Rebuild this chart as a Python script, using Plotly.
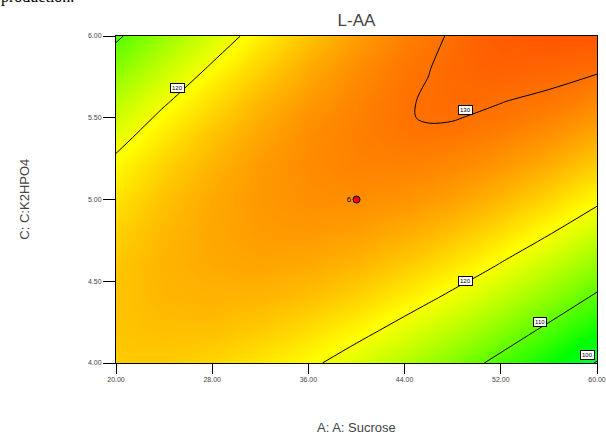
import plotly.graph_objects as go

# Factor levels (A: Sucrose, C: K2HPO4) and L-AA response on the grid
sucrose = [20, 24, 28, 32, 36, 40, 44, 46, 48, 50, 52, 56, 60]
k2hpo4 = [4.0, 4.2, 4.4, 4.6, 4.8, 5.0, 5.2, 5.4, 5.5, 5.6, 5.8, 6.0]
laa = [
    [124.0, 123.9, 123.3, 122.1, 120.7, 118.3, 115.6, 114.1, 112.4, 110.6, 108.7, 104.5, 99.7],
    [124.4, 124.8, 124.7, 124.0, 122.8, 121.1, 118.8, 117.5, 116.1, 114.5, 112.8, 109.0, 104.7],
    [124.5, 125.3, 125.6, 125.4, 124.7, 123.4, 121.6, 120.5, 119.3, 118.0, 116.5, 113.2, 109.3],
    [124.2, 125.5, 126.2, 126.5, 126.2, 125.4, 124.0, 123.2, 122.2, 121.1, 119.8, 116.9, 113.5],
    [123.5, 125.2, 126.4, 127.1, 127.3, 126.9, 126.0, 125.4, 124.6, 123.7, 122.7, 120.3, 117.3],
    [122.4, 124.6, 126.2, 127.3, 127.9, 128.0, 127.6, 127.2, 126.7, 126.0, 125.2, 123.2, 120.7],
    [120.9, 123.5, 125.6, 127.2, 128.2, 128.8, 128.8, 128.6, 128.3, 127.9, 127.3, 125.8, 123.7],
    [118.7, 121.8, 124.4, 126.5, 128.0, 129.0, 129.61, 129.71, 129.62, 129.36, 128.97, 127.9, 126.3],
    [117.4, 120.8, 123.6, 125.9, 127.7, 128.9, 129.87, 130.14, 130.1, 129.85, 129.65, 128.8, 127.45],
    [116.0, 119.6, 122.7, 125.2, 127.2, 128.7, 129.83, 130.18, 130.34, 130.32, 130.05, 129.6, 128.5],
    [112.8, 116.9, 120.5, 123.5, 126.1, 128.1, 129.56, 129.95, 130.52, 130.8, 130.97, 130.7, 130.3],
    [109.3, 113.9, 117.9, 121.5, 124.5, 127.0, 128.98, 129.6, 130.2, 130.98, 131.38, 131.8, 131.7],
]

# Contour levels and where their value boxes sit
levels = [100, 110, 120, 130]
label_values = [120, 130, 120, 110, 100]
label_x = [25.15, 49.1, 49.1, 55.25, 59.2]
label_y = [5.682, 5.547, 4.50, 4.25, 4.05]

# Design (centre) point and its replicate count
center_x = [40]
center_y = [5.0]
center_count = ["6"]

x_ticks = [20, 28, 36, 44, 52, 60]
x_ticktext = ["20.00", "28.00", "36.00", "44.00", "52.00", "60.00"]
y_ticks = [4.0, 4.5, 5.0, 5.5, 6.0]
y_ticktext = ["4.00", "4.50", "5.00", "5.50", "6.00"]

zmin, zmax = 99.7, 131.8
colorscale = [
    [0.0, "#00ff40"],
    [0.134, "#00ff00"],
    [0.648, "#ffff00"],
    [1.0, "#ff5500"],
]

fig = go.Figure()
fig.add_trace(go.Contour(
    x=sucrose, y=k2hpo4, z=laa,
    zmin=zmin, zmax=zmax, colorscale=colorscale, showscale=False,
    contours=dict(start=levels[0], end=levels[-1], size=levels[1] - levels[0],
                  coloring="heatmap", showlines=True),
    line=dict(color="black", width=1, smoothing=1),
    hoverinfo="skip",
))
fig.add_trace(go.Scatter(
    x=center_x, y=center_y, mode="markers+text",
    text=center_count, textposition="middle left",
    textfont=dict(size=8, color="black", family="Liberation Sans"),
    marker=dict(symbol="circle", size=7, color="#ff0000",
                line=dict(color="black", width=1)),
    showlegend=False, hoverinfo="skip", cliponaxis=False,
))

annotations = []
for v, lx, ly in zip(label_values, label_x, label_y):
    annotations.append(dict(
        x=lx, y=ly, xref="x", yref="y", text=str(v), showarrow=False,
        font=dict(size=6, color="black", family="Liberation Sans"),
        bgcolor="white", bordercolor="black", borderwidth=1, borderpad=1,
    ))

annotations += [
    dict(text="A: A: Sucrose", xref="paper", yref="paper", x=0.5, y=-0.196,
         xanchor="center", yanchor="middle", showarrow=False,
         font=dict(size=13, color="#444444", family="Liberation Sans")),
    dict(text="C: C:K2HPO4", xref="paper", yref="paper", x=-0.191, y=0.5,
         xanchor="center", yanchor="middle", textangle=-90, showarrow=False,
         font=dict(size=13, color="#444444", family="Liberation Sans")),
    dict(text="production.", xref="paper", yref="paper", x=-0.241, y=1.0902,
         xanchor="left", yanchor="bottom", showarrow=False, borderpad=0,
         font=dict(size=16, color="black", family="Liberation Serif")),
]

axis_font = dict(size=7, color="#444444", family="Liberation Sans")
fig.update_layout(
    width=606, height=434,
    margin=dict(l=116, r=9, t=36, b=71, autoexpand=False),
    paper_bgcolor="white", plot_bgcolor="white",
    title=dict(text="L-AA", x=0.5, xref="paper", y=1 - 20 / 434, yref="container",
               xanchor="center", yanchor="middle",
               font=dict(size=17, color="#444444", family="Liberation Sans")),
    xaxis=dict(range=[20, 60], tickvals=x_ticks, ticktext=x_ticktext,
               ticks="outside", ticklen=10, tickcolor="black", tickwidth=1,
               showline=True, linecolor="black", linewidth=1, mirror=True,
               showgrid=False, zeroline=False, tickfont=axis_font,
               automargin=False),
    yaxis=dict(range=[4, 6], tickvals=y_ticks, ticktext=y_ticktext,
               ticks="outside", ticklen=12, tickcolor="black", tickwidth=1,
               showline=True, linecolor="black", linewidth=1, mirror=True,
               showgrid=False, zeroline=False, tickfont=axis_font,
               automargin=False),
    annotations=annotations,
    showlegend=False,
)

fig.write_html("out.html")
